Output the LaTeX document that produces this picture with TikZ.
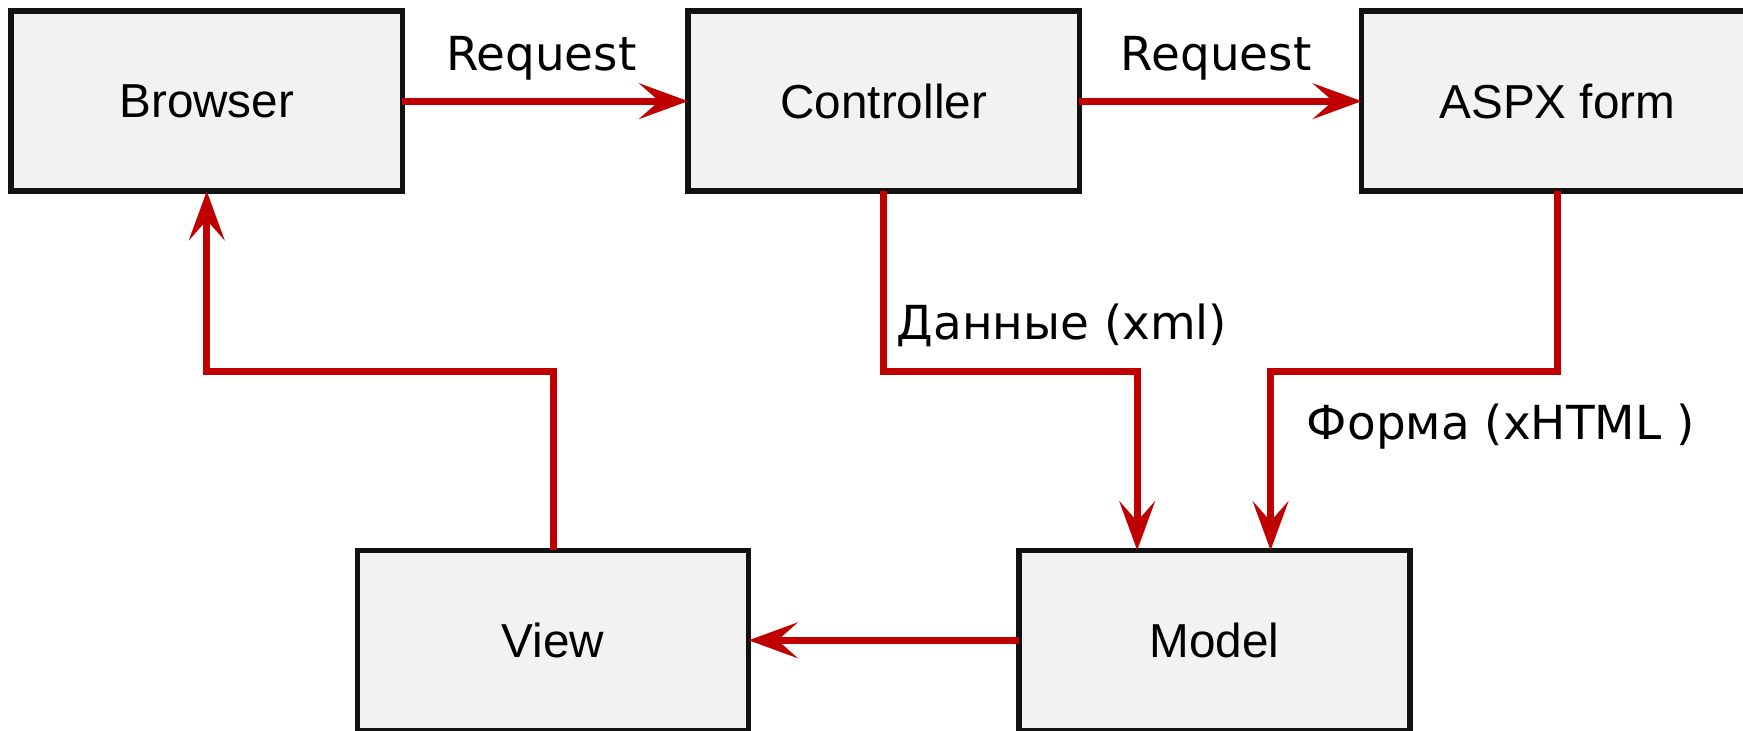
\documentclass[tikz,border=0pt]{standalone}
\usepackage{fontspec}
\setmainfont{Liberation Sans}
\newfontfamily\labelfont{DejaVu Sans}
\usetikzlibrary{positioning,arrows.meta}

\definecolor{flowRed}{HTML}{C00000}
\definecolor{blockFill}{HTML}{F2F2F2}

\begin{document}
\begin{tikzpicture}[
  block/.style={rectangle, draw=black!93, fill=blockFill, line width=1.4pt, outer sep=0pt,
                minimum width=3.52cm, minimum height=1.62cm, font=\fontsize{12.2}{14}\selectfont},
  flow/.style={draw=flowRed, line width=1.8pt,
               -{Stealth[length=4.4mm, width=3.2mm, inset=1.8mm]}},
  flowLabel/.style={font=\labelfont\fontsize{12}{14}\selectfont, inner sep=0pt}
]
\useasboundingbox (0,0) rectangle (15.68,6.57);

% top row
\node[block](browser) at (1.86,5.66){Browser};
\node[block](controller)[right=2.57cm of browser]{Controller};
\node[block](aspxForm)[right=2.54cm of controller]{ASPX form};

% bottom row
\node[block](view) at (4.975,0.81){View};
\node[block](model)[right=2.43cm of view]{Model};

% bend points of the routed connectors
\coordinate (dataBend) at (10.23,3.23);
\coordinate (formBend) at (11.43,3.23);
\coordinate (viewBend) at (1.86,3.23);

\draw[flow] (browser.east) -- (controller.west);
\node[flowLabel, anchor=base] (requestOne) at (4.87,5.94) {Request};

\draw[flow] (controller.east) -- (aspxForm.west);
\node[flowLabel, anchor=base] (requestTwo) at (10.94,5.94) {Request};

\draw[flow] (controller.south) |- (dataBend) -- (dataBend |- model.north);
\node[flowLabel, anchor=base west] (dataLabel) at (8.06,3.52) {Данные (xml)};

\draw[flow] (aspxForm.south) |- (formBend) -- (formBend |- model.north);
\node[flowLabel, anchor=base west] (formLabel) at (11.75,2.62) {Форма (xHTML )};

\draw[flow] (model.west) -- (view.east);

\draw[flow] (view.north) |- (viewBend) -- (browser.south);

\end{tikzpicture}
\end{document}
